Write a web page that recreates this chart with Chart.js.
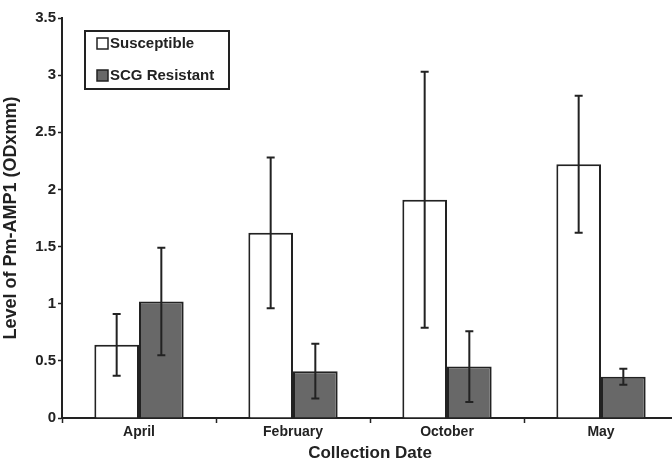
<!DOCTYPE html>
<html>
<head>
<meta charset="utf-8">
<script src="https://cdn.jsdelivr.net/npm/chart.js@4"></script>
<style>
  html, body { margin: 0; padding: 0; background: #fff; overflow: hidden; }
</style>
</head>
<body>
<canvas id="bar-chart" width="680" height="464"></canvas>
<script>
// datos
const fechas = ["April", "February", "October", "May"];
const susceptible = [0.64, 1.62, 1.91, 2.22];
const susceptibleErr = [0.27, 0.66, 1.12, 0.60];
const resistant = [1.02, 0.41, 0.45, 0.36];
const resistantErr = [0.47, 0.24, 0.31, 0.07];
const yTicks = [0, 0.5, 1, 1.5, 2, 2.5, 3, 3.5];

const ink = "#222";
const fuente = "'Liberation Sans', Arial, sans-serif";

// barras de error
const errorBars = {
  id: "errorBars",
  afterDatasetsDraw(chart) {
    const ctx = chart.ctx;
    const y = chart.scales.y;
    ctx.save();
    ctx.strokeStyle = ink;
    ctx.lineWidth = 2;
    chart.data.datasets.forEach((ds, i) => {
      const meta = chart.getDatasetMeta(i);
      meta.data.forEach((bar, j) => {
        const v = ds.data[j], e = ds.errors[j];
        const top = y.getPixelForValue(v + e);
        const bot = y.getPixelForValue(v - e);
        ctx.beginPath();
        ctx.moveTo(bar.x, top); ctx.lineTo(bar.x, bot);
        ctx.moveTo(bar.x - 4, top); ctx.lineTo(bar.x + 4, top);
        ctx.moveTo(bar.x - 4, bot); ctx.lineTo(bar.x + 4, bot);
        ctx.stroke();
      });
    });
    ctx.restore();
  }
};

// leyenda dentro del area
const legendBox = {
  id: "legendBox",
  afterDraw(chart) {
    const ctx = chart.ctx;
    ctx.save();
    ctx.strokeStyle = ink;
    ctx.lineWidth = 2;
    ctx.strokeRect(85, 31, 144, 58);
    ctx.font = "bold 15px " + fuente;
    ctx.textBaseline = "middle";
    chart.data.datasets.forEach((ds, i) => {
      const yy = 44 + i * 32;
      ctx.fillStyle = ds.backgroundColor;
      ctx.fillRect(97, yy - 6, 11, 11);
      ctx.lineWidth = 1.5;
      ctx.strokeRect(97, yy - 6, 11, 11);
      ctx.fillStyle = ink;
      ctx.fillText(ds.label, 110, yy);
    });
    ctx.restore();
  }
};

const contenedor = document.querySelector("#bar-chart").getContext("2d");

new Chart(contenedor, {
  type: "bar",
  data: {
    labels: fechas,
    datasets: [
      {
        label: "Susceptible",
        data: susceptible,
        errors: susceptibleErr,
        backgroundColor: "#ffffff",
        borderColor: ink,
        borderWidth: 2,
      },
      {
        label: "SCG Resistant",
        data: resistant,
        errors: resistantErr,
        backgroundColor: "#686868",
        borderColor: ink,
        borderWidth: 2,
      },
    ],
  },
  options: {
    responsive: false,
    animation: false,
    layout: { padding: { top: 18, right: 2, left: 0, bottom: 0 } },
    datasets: { bar: { categoryPercentage: 0.58, barPercentage: 1 } },
    plugins: { legend: { display: false }, tooltip: { enabled: false } },
    scales: {
      x: {
        grid: { offset: true, drawOnChartArea: false, tickLength: 5, color: ink, tickWidth: 1.5 },
        border: { color: ink, width: 2 },
        ticks: { color: ink, font: { family: fuente, size: 14, weight: "bold" }, padding: 1 },
        title: {
          display: true,
          text: "Collection Date",
          color: ink,
          font: { family: fuente, size: 17, weight: "bold" },
          padding: { top: 0, bottom: 0 },
        },
        afterFit(scale) { scale.height = 46; },
      },
      y: {
        min: 0,
        max: 3.5,
        afterBuildTicks(scale) { scale.ticks = yTicks.map(v => ({ value: v })); },
        grid: { drawOnChartArea: false, tickLength: 4, color: ink, tickWidth: 1.5 },
        border: { color: ink, width: 2 },
        ticks: {
          color: ink,
          font: { family: fuente, size: 15, weight: "bold" },
          padding: 2,
          callback: v => String(v),
        },
        title: {
          display: true,
          text: "Level of Pm-AMP1 (ODxmm)",
          color: ink,
          font: { family: fuente, size: 18, weight: "bold" },
          padding: { top: 0, bottom: 2 },
        },
        afterFit(scale) { scale.width = 62; },
      },
    },
  },
  plugins: [errorBars, legendBox],
});
</script>
</body>
</html>
